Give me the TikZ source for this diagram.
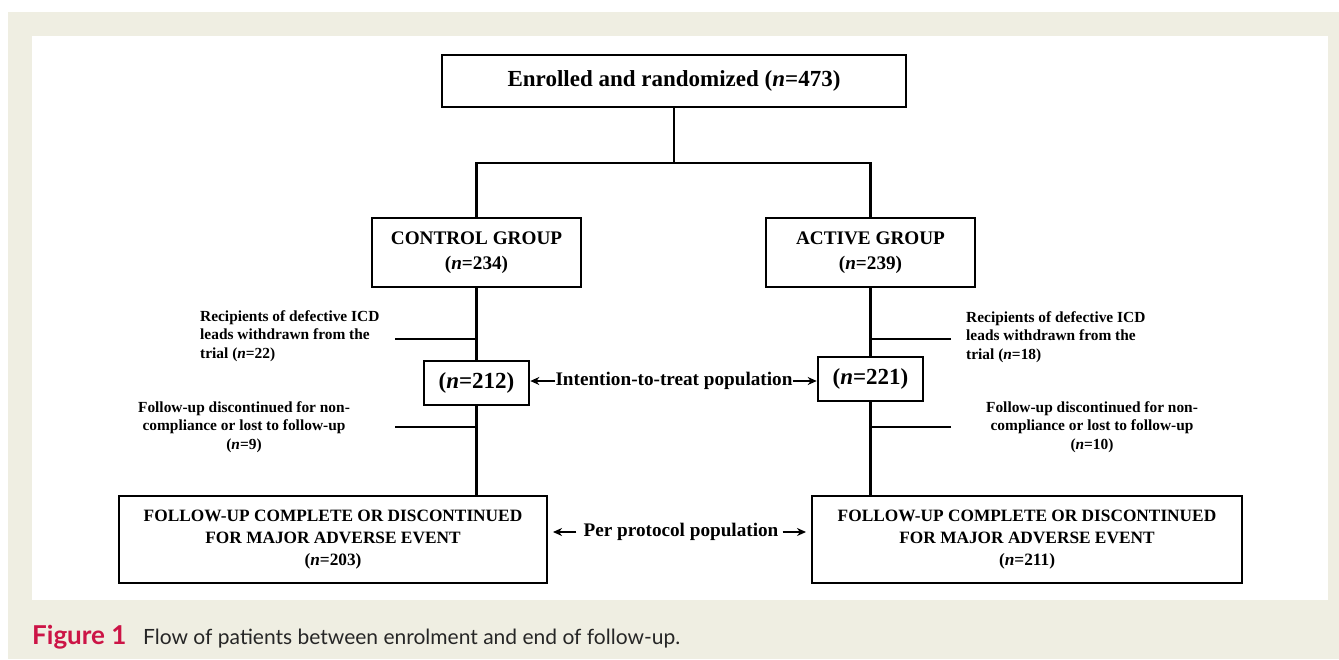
\documentclass[tikz,border=0pt]{standalone}
\usepackage{fontspec}
\setmainfont{Liberation Serif}
\newfontfamily\capfont{Lato}
\usetikzlibrary{arrows.meta}
\definecolor{panel}{RGB}{239,238,226}
\definecolor{figred}{RGB}{204,20,70}
\tikzset{
  box/.style={draw=black, line width=2.6pt, inner sep=0pt, align=center, font=\bfseries},
  conn/.style={draw=black, line width=2.1pt},
  lbl/.style={inner sep=0pt, font=\fontsize{15.4}{18.5}\selectfont\bfseries},
  poparrow/.style={draw=black, line width=1.8pt, -{Stealth[length=9pt,width=8pt]}},
  poptext/.style={inner sep=0pt, font=\fontsize{19.2}{22}\selectfont\bfseries}
}
\begin{document}
\begin{tikzpicture}[x=1pt,y=-1pt]
\useasboundingbox (0,0) rectangle (1339,659);
\fill[white] (0,0) rectangle (1339,659);
\fill[panel] (8,12) rectangle (1339,659);
\fill[white] (32,36) rectangle (1328,600);

% boxes
\node[box, minimum width=464pt, minimum height=52pt, font=\fontsize{23}{26}\selectfont\bfseries] (top) at (674,81) {Enrolled and randomized (\textit{n}=473)};
\node[box, minimum width=209pt, minimum height=69pt, font=\fontsize{19.2}{25}\selectfont\bfseries] (ctrl) at (476.5,252.5) {CONTROL GROUP\\(\textit{n}=234)};
\node[box, minimum width=209pt, minimum height=69pt, font=\fontsize{19.2}{25}\selectfont\bfseries] (act) at (870.5,252.5) {ACTIVE GROUP\\(\textit{n}=239)};
\node[box, minimum width=105pt, minimum height=44pt, font=\fontsize{23}{26}\selectfont\bfseries] (c212) at (476.5,383) {(\textit{n}=212)};
\node[box, minimum width=105pt, minimum height=44pt, font=\fontsize{23}{26}\selectfont\bfseries] (a221) at (870.5,379) {(\textit{n}=221)};
\node[box, minimum width=428pt, minimum height=87pt, font=\fontsize{17.3}{22}\selectfont\bfseries] (cfu) at (333,539.5) {FOLLOW-UP COMPLETE OR DISCONTINUED\\FOR MAJOR ADVERSE EVENT\\(\textit{n}=203)};
\node[box, minimum width=430pt, minimum height=87pt, font=\fontsize{17.3}{22}\selectfont\bfseries] (afu) at (1027,539.5) {FOLLOW-UP COMPLETE OR DISCONTINUED\\FOR MAJOR ADVERSE EVENT\\(\textit{n}=211)};

% tree connectors
\coordinate (split) at (674,163);
\draw[conn] (top.south) -- (split);
\draw[conn] (ctrl.north) |- (split) -| (act.north);
\draw[conn] (ctrl.south) -- (c212.north);
\draw[conn] (c212.south) -- (cfu.north -| c212.south);
\draw[conn] (act.south) -- (a221.north);
\draw[conn] (a221.south) -- (afu.north -| a221.south);

% side withdrawal lines
\coordinate (cw1) at (395,339);
\coordinate (cw2) at (395,427);
\coordinate (aw1) at (951,339);
\coordinate (aw2) at (951,427);
\draw[conn] (cw1) -- (cw1 -| ctrl.south);
\draw[conn] (cw2) -- (cw2 -| ctrl.south);
\draw[conn] (aw1) -- (aw1 -| act.south);
\draw[conn] (aw2) -- (aw2 -| act.south);

% side labels
\node[lbl, align=left, anchor=west] (crec) at (200,336) {Recipients of defective ICD\\leads withdrawn from the\\trial (\textit{n}=22)};
\node[lbl, align=center] (cfol) at (244,427) {Follow-up discontinued for non-\\compliance or lost to follow-up\\(\textit{n}=9)};
\node[lbl, align=left, anchor=west] (arec) at (966,337) {Recipients of defective ICD\\leads withdrawn from the\\trial (\textit{n}=18)};
\node[lbl, align=center] (afol) at (1092,427) {Follow-up discontinued for non-\\compliance or lost to follow-up\\(\textit{n}=10)};

% populations
\node[poptext] (itt) at (674,381) {Intention-to-treat population};
\draw[poparrow] (itt.west) -- (c212.east |- itt.west);
\draw[poparrow] (itt.east) -- (a221.west |- itt.east);
\node[poptext] (pp) at (681,532) {Per protocol population};
\coordinate (ppl) at (553,532);
\coordinate (ppr) at (806,532);
\draw[poparrow] ([xshift=-7pt]pp.west) -- (ppl);
\draw[poparrow] ([xshift=4pt]pp.east) -- (ppr);

% caption
\node[anchor=base west, inner sep=0pt, font=\capfont\bfseries\fontsize{26}{28}\selectfont, text=figred] (fig) at (32,644) {Figure 1};
\node[anchor=base west, inner sep=0pt, font=\capfont\fontsize{21}{24}\selectfont, text=black!85] (cap) at (143,644) {Flow of patients between enrolment and end of follow-up.};
\end{tikzpicture}
\end{document}
